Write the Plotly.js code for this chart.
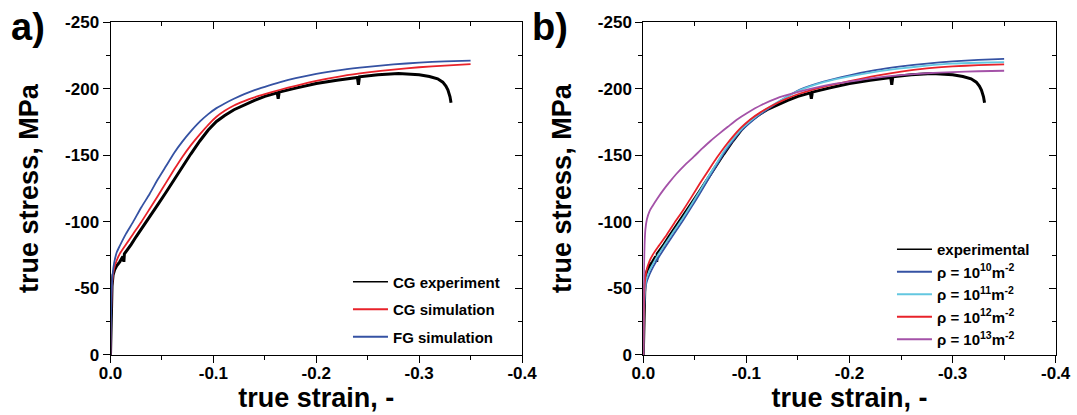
<!DOCTYPE html>
<html>
<head>
<meta charset="utf-8">
<script src="https://cdn.plot.ly/plotly-3.0.1.min.js"></script>
<style>
  html, body { margin: 0; padding: 0; background: #ffffff; }
  #chart { width: 1077px; height: 415px; }
</style>
</head>
<body>
<div id="chart"></div>
<script>
// ---------------- data (true strain, true stress MPa) ----------------
// Experimental curve (same test shown in both panels)
const expStrain = [0, -0.0003, -0.0008, -0.0015, -0.0025, -0.004, -0.006, -0.009, -0.012, -0.013, -0.0135, -0.016, -0.02, -0.025, -0.03, -0.038, -0.046, -0.054, -0.062, -0.07, -0.078, -0.087, -0.095, -0.103, -0.111, -0.12, -0.13, -0.14, -0.15, -0.162, -0.163, -0.164, -0.18, -0.2, -0.22, -0.24, -0.241, -0.242, -0.26, -0.28, -0.3, -0.31, -0.318, -0.323, -0.326, -0.328, -0.33, -0.331];
const expStress = [0, -20, -38, -52, -60, -64, -67, -70, -74, -70, -76, -78.5, -83, -89, -94.5, -103.5, -113, -122.3, -132, -141.5, -151, -161, -169, -175.5, -180, -184.3, -188, -191.3, -194.3, -197, -192.5, -197.5, -200.5, -204, -206.5, -208.5, -203, -209, -210.5, -211.5, -210.5, -209.3, -207.5, -205, -202, -199, -194, -189.5];

// Panel a simulations
const simStrainA = [0, -0.0005, -0.001, -0.002, -0.0035, -0.006, -0.009, -0.015, -0.022, -0.03, -0.038, -0.046, -0.054, -0.062, -0.07, -0.078, -0.087, -0.095, -0.103, -0.111, -0.12, -0.13, -0.14, -0.15, -0.165, -0.18, -0.2, -0.225, -0.25, -0.275, -0.3, -0.325, -0.35];
const cgSimStress = [0, -27, -43, -57, -65, -71, -76, -83, -91, -100, -109.7, -119.5, -129.5, -139.5, -149, -157.5, -166, -173, -179, -183.5, -187.5, -190.8, -193.6, -196, -199.3, -202.3, -206, -209.6, -212.3, -214.5, -216.2, -217.5, -218.6];
const fgSimStress = [0, -28, -45, -60, -69, -77, -82, -91, -100, -111, -121, -132, -142, -152, -160.5, -168, -175.5, -181, -185.5, -189, -192.5, -196, -199, -201.5, -205, -208, -211.3, -214.3, -216.5, -218.3, -219.7, -220.6, -221.2];

// Panel b simulations (initial dislocation density)
const simStrainB = [0, -0.0004, -0.0008, -0.0016, -0.003, -0.006, -0.0097, -0.015, -0.0226, -0.03, -0.0388, -0.047, -0.055, -0.063, -0.0711, -0.079, -0.0873, -0.095, -0.1035, -0.114, -0.126, -0.138, -0.152, -0.175, -0.2, -0.225, -0.25, -0.275, -0.3, -0.325, -0.35];
const rho10Stress = [0, -22, -34, -46, -54, -60.5, -66.4, -73.5, -82.7, -91.3, -101.5, -111.5, -121.5, -132, -142.5, -152.5, -161.3, -168.5, -174.5, -181, -187.5, -193.5, -199.5, -205.5, -210.2, -214, -216.8, -219, -220.6, -221.7, -222.5];
const rho11Stress = [0, -24, -37, -49, -57, -63.5, -69, -76, -85, -93.5, -103.5, -113.5, -123.5, -134, -144, -154, -162.5, -169.5, -175.5, -182, -188, -193.5, -199, -205, -209.3, -212.8, -215.3, -217.4, -218.9, -219.6, -220];
const rho12Stress = [0, -27, -42, -55, -63, -70.5, -76, -82, -90.2, -99, -109, -119, -129, -138.5, -148, -156.5, -164.5, -171, -176.8, -182.5, -187.8, -192.3, -196.5, -201.5, -205.8, -209.8, -213, -215.3, -216.8, -217.8, -218.4];
const rho13Strain = [0, -0.0003, -0.0007, -0.0012, -0.002, -0.0035, -0.006, -0.009, -0.014, -0.019, -0.025, -0.032, -0.04, -0.049, -0.057, -0.0654, -0.074, -0.082, -0.091, -0.1, -0.115, -0.13, -0.145, -0.16, -0.18, -0.2, -0.225, -0.25, -0.275, -0.3, -0.325, -0.35];
const rho13Stress = [0, -40, -65, -82, -94, -102, -108, -112, -118, -123.5, -129.5, -136, -142.5, -149, -155, -161, -166.5, -171.5, -177, -181.5, -188, -193, -196.5, -199.5, -203, -205.5, -208.3, -210.3, -211.7, -212.6, -213.2, -213.6];

// names and tick labels
const namesA = ['CG experiment', 'CG simulation', 'FG simulation'];
const namesB = ['experimental', 'ρ = 10<sup>10</sup>m<sup>-2</sup>', 'ρ = 10<sup>11</sup>m<sup>-2</sup>', 'ρ = 10<sup>12</sup>m<sup>-2</sup>', 'ρ = 10<sup>13</sup>m<sup>-2</sup>'];
const xTickVals = [0, -0.1, -0.2, -0.3, -0.4];
const xTickText = ['0.0', '-0.1', '-0.2', '-0.3', '-0.4'];
const yTickVals = [0, -50, -100, -150, -200, -250];
const yTickText = ['0', '-50', '-100', '-150', '-200', '-250'];

// ---------------- styling ----------------
const FONT = 'Liberation Sans, Arial, sans-serif';
const C_BLACK = '#000000', C_RED = '#e8222a', C_BLUE = '#3552a3', C_CYAN = '#63c7e0', C_PURPLE = '#a452a8';
const SIM = { shape: 'spline', smoothing: 0.6 };

function ln(color, w, spline) { return Object.assign({ color: color, width: w }, spline ? SIM : {}); }

const traces = [
  // panel a
  { x: expStrain, y: expStress, xaxis: 'x', yaxis: 'y', mode: 'lines', line: ln(C_BLACK, 3), showlegend: false },
  { x: [null], y: [null], name: namesA[0], xaxis: 'x', yaxis: 'y', mode: 'lines', line: ln(C_BLACK, 1.6), legend: 'legend', legendgroup: 'a1' },
  { x: simStrainA, y: cgSimStress, name: namesA[1], xaxis: 'x', yaxis: 'y', mode: 'lines', line: ln(C_RED, 1.8, true), legend: 'legend', legendgroup: 'a2' },
  { x: simStrainA, y: fgSimStress, name: namesA[2], xaxis: 'x', yaxis: 'y', mode: 'lines', line: ln(C_BLUE, 1.8, true), legend: 'legend', legendgroup: 'a3' },
  // panel b
  { x: expStrain, y: expStress, xaxis: 'x2', yaxis: 'y2', mode: 'lines', line: ln(C_BLACK, 3), showlegend: false },
  { x: [null], y: [null], name: namesB[0], xaxis: 'x2', yaxis: 'y2', mode: 'lines', line: ln(C_BLACK, 1.6), legend: 'legend2' },
  { x: simStrainB, y: rho10Stress, name: namesB[1], xaxis: 'x2', yaxis: 'y2', mode: 'lines', line: ln(C_BLUE, 1.8, true), legend: 'legend2' },
  { x: simStrainB, y: rho11Stress, name: namesB[2], xaxis: 'x2', yaxis: 'y2', mode: 'lines', line: ln(C_CYAN, 1.8, true), legend: 'legend2' },
  { x: simStrainB, y: rho12Stress, name: namesB[3], xaxis: 'x2', yaxis: 'y2', mode: 'lines', line: ln(C_RED, 1.8, true), legend: 'legend2' },
  { x: rho13Strain, y: rho13Stress, name: namesB[4], xaxis: 'x2', yaxis: 'y2', mode: 'lines', line: ln(C_PURPLE, 1.8, true), legend: 'legend2' },
  // empty traces to carry the mirrored (top/right) frame axes
  { x: [null], y: [null], xaxis: 'x3', yaxis: 'y3', mode: 'lines', showlegend: false, hoverinfo: 'skip' },
  { x: [null], y: [null], xaxis: 'x4', yaxis: 'y4', mode: 'lines', showlegend: false, hoverinfo: 'skip' }
];

const tickFont = { family: FONT, size: 17, color: '#000', weight: 'bold' };
const titleFont = { family: FONT, size: 27, color: '#000', weight: 'bold' };

function xMain(domain) {
  return {
    domain: domain, range: [0, -0.4], autorange: false,
    tickmode: 'array', tickvals: xTickVals, ticktext: xTickText,
    ticks: 'outside', ticklen: 7, tickwidth: 1, tickcolor: '#000',
    minor: { dtick: 0.05, tick0: 0, ticks: 'outside', ticklen: 4, tickwidth: 1, tickcolor: '#000' },
    showline: true, linecolor: '#000', linewidth: 1,
    showgrid: false, zeroline: false, tickfont: tickFont, ticklabelstandoff: -4,
    title: { text: 'true strain, -', font: titleFont, standoff: 2 },
    automargin: false, fixedrange: true
  };
}
function yMain(anchor) {
  return {
    domain: [0.1446, 0.9463], range: [0, -250], autorange: false, anchor: anchor,
    tickmode: 'array', tickvals: yTickVals, ticktext: yTickText,
    ticks: 'outside', ticklen: 7, tickwidth: 1, tickcolor: '#000',
    minor: { dtick: 25, tick0: 0, ticks: 'outside', ticklen: 4, tickwidth: 1, tickcolor: '#000' },
    showline: true, linecolor: '#000', linewidth: 1,
    showgrid: false, zeroline: false, tickfont: tickFont,
    title: { text: 'true stress, MPa', font: titleFont, standoff: 18 },
    automargin: false, fixedrange: true
  };
}
function xMirror(over, anchor) {
  return {
    overlaying: over, anchor: anchor, side: 'top', range: [0, -0.4], autorange: false,
    tickmode: 'array', tickvals: xTickVals, ticks: 'inside', ticklen: 7, tickcolor: '#000',
    minor: { dtick: 0.05, tick0: 0, ticks: 'inside', ticklen: 4, tickcolor: '#000' },
    showticklabels: false, showline: true, linecolor: '#000', linewidth: 1,
    showgrid: false, zeroline: false, fixedrange: true
  };
}
function yMirror(over, anchor) {
  return {
    overlaying: over, anchor: anchor, side: 'right', range: [0, -250], autorange: false,
    tickmode: 'array', tickvals: yTickVals, ticks: 'inside', ticklen: 7, tickcolor: '#000',
    minor: { dtick: 25, tick0: 0, ticks: 'inside', ticklen: 4, tickcolor: '#000' },
    showticklabels: false, showline: true, linecolor: '#000', linewidth: 1,
    showgrid: false, zeroline: false, fixedrange: true
  };
}

const legendFont = { family: FONT, size: 15, color: '#000', weight: 'bold' };

const layout = {
  width: 1077, height: 415,
  margin: { l: 0, r: 0, t: 0, b: 0 },
  paper_bgcolor: '#ffffff', plot_bgcolor: 'rgba(0,0,0,0)',
  font: { family: FONT, color: '#000' },
  xaxis: Object.assign(xMain([0.1026, 0.4847]), { anchor: 'y' }),
  yaxis: yMain('x'),
  xaxis2: Object.assign(xMain([0.5973, 0.9802]), { anchor: 'y2' }),
  yaxis2: yMain('x2'),
  xaxis3: xMirror('x', 'y3'),
  yaxis3: yMirror('y', 'x3'),
  xaxis4: xMirror('x2', 'y4'),
  yaxis4: yMirror('y2', 'x4'),
  legend: {
    x: 0.3231, y: 0.3602, xanchor: 'left', yanchor: 'top', itemwidth: 35,
    bgcolor: 'rgba(0,0,0,0)', borderwidth: 0, font: legendFont,
    traceorder: 'grouped', tracegroupgap: 5
  },
  legend2: {
    x: 0.8282, y: 0.4385, xanchor: 'left', yanchor: 'top', itemwidth: 35,
    bgcolor: 'rgba(0,0,0,0)', borderwidth: 0, font: legendFont,
    traceorder: 'normal'
  },
  annotations: [
    { text: 'a)', xref: 'paper', yref: 'paper', x: 9 / 1077, y: 1 - 4 / 415, xanchor: 'left', yanchor: 'top', showarrow: false,
      font: { family: FONT, size: 38, color: '#000', weight: 'bold' } },
    { text: 'b)', xref: 'paper', yref: 'paper', x: 530 / 1077, y: 1 - 4 / 415, xanchor: 'left', yanchor: 'top', showarrow: false,
      font: { family: FONT, size: 38, color: '#000', weight: 'bold' } }
  ],
  showlegend: true
};

Plotly.newPlot('chart', traces, layout, { displayModeBar: false, staticPlot: true });
</script>
</body>
</html>
